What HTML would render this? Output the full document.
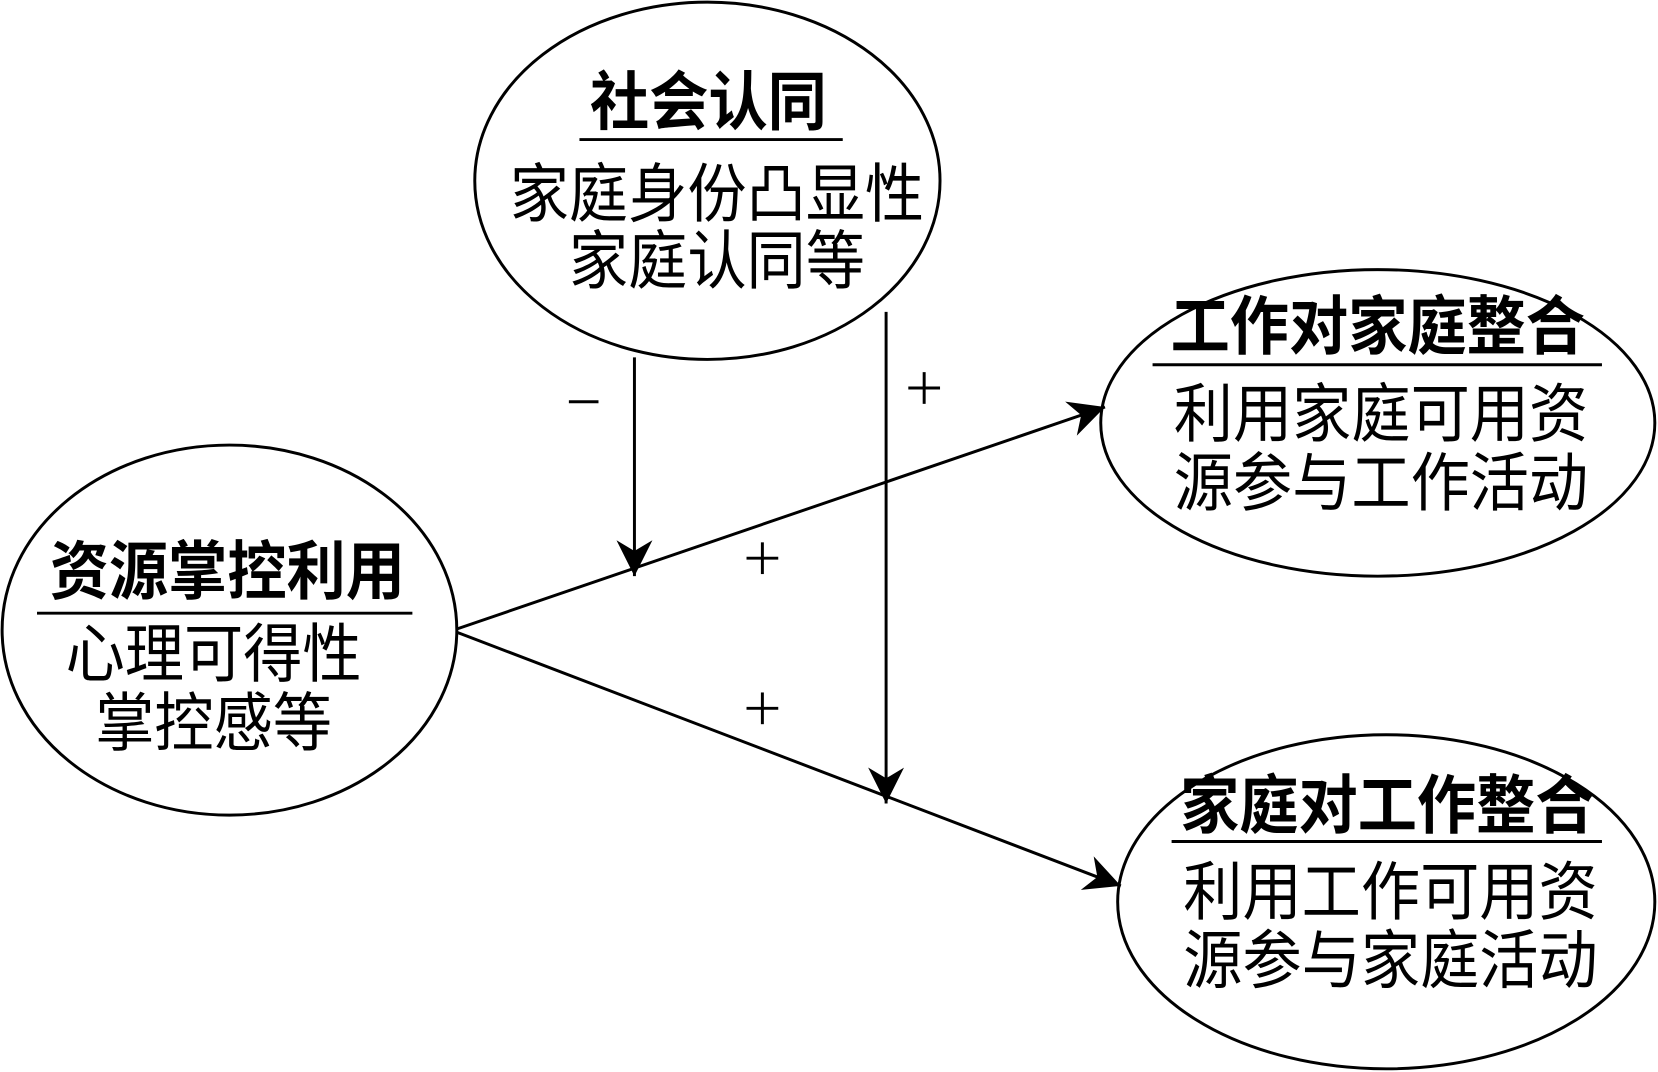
<!DOCTYPE html>
<html><head><meta charset="utf-8"><style>
html,body{margin:0;padding:0;background:#fff;width:1658px;height:1072px;overflow:hidden}
text{font-family:"Liberation Sans","Noto Sans CJK SC",sans-serif;fill:#000}
.b{font-weight:bold}
</style></head><body>
<svg width="1658" height="1072" viewBox="0 0 1568 1014" preserveAspectRatio="none" xmlns="http://www.w3.org/2000/svg">
<defs><marker id="a" viewBox="0 0 10 10" refX="10" refY="5" markerWidth="34" markerHeight="34" markerUnits="userSpaceOnUse" orient="auto"><path d="M0,0 L10,5 L0,10 L3,5 Z" fill="#000"/></marker></defs>
<g fill="none" stroke="#000" stroke-width="2.8">
<ellipse cx="669" cy="171" rx="220" ry="169"/>
<ellipse cx="217" cy="596" rx="215" ry="175"/>
<ellipse cx="1303" cy="400" rx="262" ry="145"/>
<ellipse cx="1311" cy="853" rx="254" ry="158"/>
<line x1="548" y1="132" x2="797" y2="132"/>
<line x1="35" y1="580" x2="390" y2="580"/>
<line x1="1090" y1="345" x2="1515" y2="345"/>
<line x1="1108" y1="796" x2="1515" y2="796"/>
<line x1="432" y1="595" x2="1045" y2="385" marker-end="url(#a)"/>
<line x1="432" y1="598" x2="1060" y2="838" marker-end="url(#a)"/>
<line x1="600" y1="338" x2="600" y2="545" marker-end="url(#a)"/>
<line x1="838" y1="295" x2="838" y2="760" marker-end="url(#a)"/>
<!-- signs -->
<line x1="538" y1="380" x2="566" y2="380"/>
<line x1="859" y1="367" x2="889" y2="367"/><line x1="874" y1="352" x2="874" y2="382"/>
<line x1="706" y1="528" x2="736" y2="528"/><line x1="721" y1="513" x2="721" y2="543"/>
<line x1="706" y1="670" x2="736" y2="670"/><line x1="721" y1="655" x2="721" y2="685"/>
</g>
<g font-size="56" text-anchor="middle">
<text class="b" transform="translate(670,118) scale(1,1.08)">社会认同</text>
<text transform="translate(678,205) scale(1,1.08)">家庭身份凸显性</text>
<text transform="translate(678,268) scale(1,1.08)">家庭认同等</text>
<text class="b" transform="translate(215,562) scale(1,1.08)">资源掌控利用</text>
<text transform="translate(202,640) scale(1,1.08)">心理可得性</text>
<text transform="translate(202,705) scale(1,1.08)">掌控感等</text>
<text class="b" transform="translate(1303,330) scale(1,1.08)">工作对家庭整合</text>
<text transform="translate(1306,413) scale(1,1.08)">利用家庭可用资</text>
<text transform="translate(1306,478) scale(1,1.08)">源参与工作活动</text>
<text class="b" transform="translate(1312,783) scale(1,1.08)">家庭对工作整合</text>
<text transform="translate(1315,865) scale(1,1.08)">利用工作可用资</text>
<text transform="translate(1315,930) scale(1,1.08)">源参与家庭活动</text>
</g>
</svg>
</body></html>
